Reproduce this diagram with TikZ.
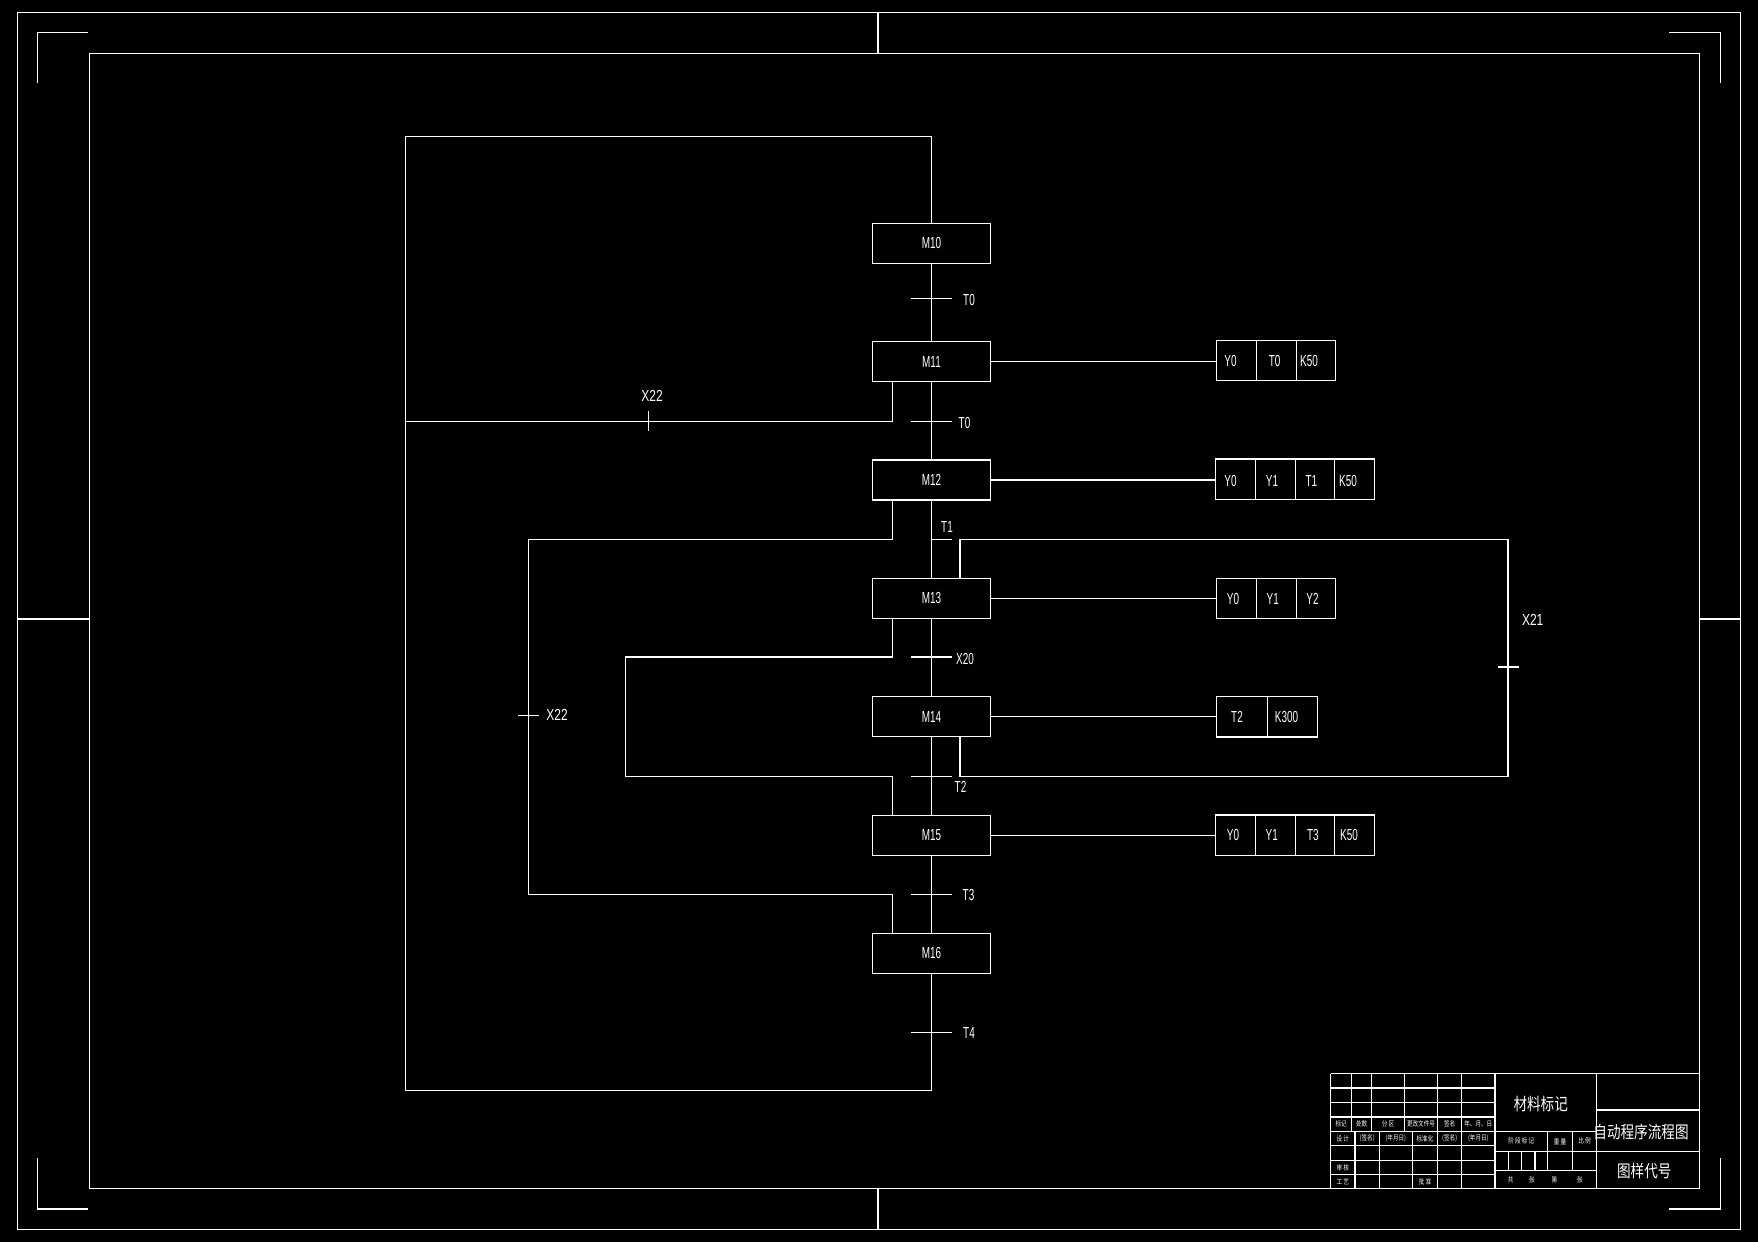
\documentclass[tikz,border=0pt]{standalone}
\usepackage{fontspec}
\setmainfont{Liberation Sans}
\newfontfamily\cadfont[FakeStretch=0.62]{Liberation Sans}
\newfontfamily\cadwide[FakeStretch=0.75]{Liberation Sans}
\newfontfamily\cjknarrow[FakeStretch=0.8]{Noto Sans CJK SC}
\tikzset{
  stepbox/.style={draw, minimum width=118.4pt, minimum height=40pt, inner sep=0pt,
    font=\cadfont\fontsize{16}{16}\selectfont},
  cellbox/.style={draw, minimum height=40.4pt, inner sep=0pt},
  lbl/.style={inner sep=0pt, font=\cadfont\fontsize{16}{16}\selectfont},
  wlbl/.style={inner sep=0pt, font=\cadwide\fontsize{16}{16}\selectfont},
  bigcjk/.style={inner sep=0pt, font=\cjknarrow\fontsize{17}{17}\selectfont},
  smallcjk/.style={inner sep=0pt, font=\cjknarrow\fontsize{7}{7}\selectfont},
  frameline/.style={line width=1.3pt},
}
\begin{document}
\begin{tikzpicture}[x=1pt,y=-1pt,color=white,line width=1.3pt]
\fill[black] (0,0) rectangle (1758,1242);
\useasboundingbox (0,0) rectangle (1758,1242);

% ---------- frames ----------
\draw[frameline] (17.3,12.3) rectangle (1740.3,1229.3);
\draw[frameline] (89.3,53.3) rectangle (1699.3,1188.3);
% centre marks
\draw (877.9,12.3) -- (877.9,53.3);
\draw (877.9,1188.3) -- (877.9,1229.3);
\draw (17.3,618.9) -- (89.3,618.9);
\draw (1699.3,618.9) -- (1740.3,618.9);
% corner marks
\draw (37.3,83.3) -- (37.3,32.7) -- (88.3,32.7);
\draw (1669.3,32.7) -- (1720.3,32.7) -- (1720.3,83.3);
\draw (37.3,1158.3) -- (37.3,1209) -- (88.3,1209);
\draw (1669.3,1209) -- (1720.3,1209) -- (1720.3,1158.3);

% ---------- step boxes ----------
\node[stepbox] (m10) at (931.5,243.3) {M10};
\node[stepbox] (m11) at (931.5,361.8) {M11};
\node[stepbox] (m12) at (931.5,480.0) {M12};
\node[stepbox] (m13) at (931.5,598.3) {M13};
\node[stepbox] (m14) at (931.5,716.7) {M14};
\node[stepbox] (m15) at (931.5,835.3) {M15};
\node[stepbox] (m16) at (931.5,953.3) {M16};

% main line and outer loop
\coordinate (ctop) at (931.5,136.3);
\coordinate (ctl) at (405.3,136.3);
\coordinate (cbl) at (405.3,1090.3);
\coordinate (cbot) at (931.5,1090.3);
\draw (m10.north) -- (ctop) -- (ctl) -- (cbl) -- (cbot) -- (m16.south);
\draw (m10.south) -- (m11.north);
\draw (m11.south) -- (m12.north);
\draw (m12.south) -- (m13.north);
\draw (m13.south) -- (m14.north);
\draw (m14.south) -- (m15.north);
\draw (m15.south) -- (m16.north);

% transitions
\coordinate (tr1) at (931.5,298.3);
\coordinate (tr2) at (931.5,421.3);
\coordinate (tr3) at (931.5,539.3);
\coordinate (tr4) at (931.5,657.0);
\coordinate (tr5) at (931.5,776.3);
\coordinate (tr6) at (931.5,894.3);
\coordinate (tr7) at (931.5,1032.3);
\draw (tr1) ++(-20.5,0) -- ++(41,0);
\draw (tr2) ++(-20.5,0) -- ++(41,0);
\draw (tr3) -- ++(20.5,0);
\draw (tr4) ++(-20.5,0) -- ++(41,0);
\draw (tr5) ++(-20.5,0) -- ++(41,0);
\draw (tr6) ++(-20.5,0) -- ++(41,0);
\draw (tr7) ++(-20.5,0) -- ++(41,0);
\node[lbl] (lt1) at (969,300) {T0};
\node[lbl] (lt2) at (964.5,422.5) {T0};
\node[lbl] (lt3) at (947,527) {T1};
\node[lbl] (lt4) at (965,659) {X20};
\node[lbl] (lt5) at (960.5,787) {T2};
\node[lbl] (lt6) at (968.5,894.5) {T3};
\node[lbl] (lt7) at (969,1033) {T4};

% X22 upper branch (M11 -> outer loop)
\coordinate (u1) at (892.3,421.3);
\draw (m11.south -| u1) -- (u1) -- (u1 -| ctl);
\draw (648.3,411) -- (648.3,430.7);
\node[wlbl] (lx22a) at (652,396) {X22};

% X22 lower loop (M12 -> M16)
\coordinate (a1) at (892.3,539.3);
\coordinate (a2) at (528.3,539.3);
\coordinate (a3) at (528.3,894.3);
\coordinate (a4) at (892.3,894.3);
\draw (m12.south -| a1) -- (a1) -- (a2) -- (a3) -- (a4) -- (m16.north -| a4);
\draw (518,715.3) -- (538.5,715.3);
\node[wlbl] (lx22b) at (557,715.3) {X22};

% X20 loop (M13 -> M15)
\coordinate (b1) at (892.3,657.0);
\coordinate (b2) at (625.6,657.0);
\coordinate (b3) at (625.6,776.3);
\coordinate (b4) at (892.3,776.3);
\draw (m13.south -| b1) -- (b1) -- (b2) -- (b3) -- (b4) -- (m15.north -| b4);

% X21 loop (M14 -> M13)
\coordinate (c1) at (960,539.3);
\coordinate (c2) at (1508,539.3);
\coordinate (c3) at (1508,776.3);
\coordinate (c4) at (960,776.3);
\draw (m13.north -| c1) -- (c1) -- (c2) -- (c3) -- (c4) -- (m14.south -| c4);
\draw (1498,667) -- (1519,667);
\node[wlbl] (lx21) at (1532.7,620) {X21};

% ---------- action boxes ----------
% M11
\node[cellbox, minimum width=40pt] (p1a) at (1236.3,360.5) {};
\node[cellbox, minimum width=40pt] (p1b) at (1276.3,360.5) {};
\node[cellbox, minimum width=39.4pt] (p1c) at (1316,360.5) {};
\draw (m11.east) -- (m11.east -| p1a.west);
\node[lbl] at (1230.5,360.5) {Y0};
\node[lbl] at (1274.7,360.5) {T0};
\node[lbl] at (1309,360.5) {K50};
% M12
\node[cellbox, minimum width=40pt] (p2a) at (1235.3,479.3) {};
\node[cellbox, minimum width=40pt] (p2b) at (1275.3,479.3) {};
\node[cellbox, minimum width=39pt] (p2c) at (1314.8,479.3) {};
\node[cellbox, minimum width=40.4pt] (p2d) at (1354.5,479.3) {};
\draw (m12.east) -- (m12.east -| p2a.west);
\node[lbl] at (1230.5,480.5) {Y0};
\node[lbl] at (1272,480.5) {Y1};
\node[lbl] at (1311.3,480.5) {T1};
\node[lbl] at (1348,480.5) {K50};
% M13
\node[cellbox, minimum width=40pt] (p3a) at (1236.3,598.5) {};
\node[cellbox, minimum width=40pt] (p3b) at (1276.3,598.5) {};
\node[cellbox, minimum width=39.4pt] (p3c) at (1316,598.5) {};
\draw (m13.east) -- (m13.east -| p3a.west);
\node[lbl] at (1233,599) {Y0};
\node[lbl] at (1272.7,599) {Y1};
\node[lbl] at (1312.5,599) {Y2};
% M14
\node[cellbox, minimum width=51pt] (p4a) at (1241.8,716.8) {};
\node[cellbox, minimum width=50.4pt] (p4b) at (1292.5,716.8) {};
\draw (m14.east) -- (m14.east -| p4a.west);
\node[lbl] at (1237,717) {T2};
\node[lbl] at (1286.5,717) {K300};
% M15
\node[cellbox, minimum width=40pt] (p5a) at (1235.3,835.3) {};
\node[cellbox, minimum width=40pt] (p5b) at (1275.3,835.3) {};
\node[cellbox, minimum width=39pt] (p5c) at (1314.8,835.3) {};
\node[cellbox, minimum width=40.4pt] (p5d) at (1354.5,835.3) {};
\draw (m15.east) -- (m15.east -| p5a.west);
\node[lbl] at (1233,834.5) {Y0};
\node[lbl] at (1271.7,834.5) {Y1};
\node[lbl] at (1312.8,834.5) {T3};
\node[lbl] at (1349,834.5) {K50};

% ---------- title block ----------
\begin{scope}[line width=1.2pt]
\draw (1330.7,1073.5) -- (1699.3,1073.5);
\draw (1330.7,1073.5) -- (1330.7,1188.3);
\foreach \yy in {1088,1102.3,1117,1131.3,1145.7,1160.7,1174.7}
  \draw (1330.7,\yy) -- (1495,\yy);
\foreach \xx in {1351.7,1371.7,1404.3,1437.7,1461.7}
  \draw (\xx,1073.5) -- (\xx,1131.3);
\foreach \xx in {1355,1379.3,1412.3,1437.7,1461.7}
  \draw (\xx,1131.3) -- (\xx,1188.3);
\draw (1495,1073.5) -- (1495,1188.3);
\draw (1495,1131.3) -- (1596.7,1131.3);
\draw (1495,1151.3) -- (1596.7,1151.3);
\draw (1495,1170.7) -- (1596.7,1170.7);
\draw (1547.7,1131.3) -- (1547.7,1170.7);
\draw (1572.3,1131.3) -- (1572.3,1170.7);
\foreach \xx in {1508.3,1521.7,1535}
  \draw (\xx,1151.3) -- (\xx,1170.7);
\draw (1596.7,1073.5) -- (1596.7,1188.3);
\draw (1596.7,1110) -- (1699.3,1110);
\draw (1596.7,1151.3) -- (1699.3,1151.3);
\end{scope}

\node[bigcjk] at (1540.7,1104.3) {材料标记};
\node[bigcjk] at (1641,1131.7) {自动程序流程图};
\node[bigcjk] at (1644.3,1171) {图样代号};

\node[smallcjk] at (1341.2,1124) {标记};
\node[smallcjk] at (1361.7,1124) {处数};
\node[smallcjk] at (1388,1124) {分\,区};
\node[smallcjk] at (1421,1124) {更改文件号};
\node[smallcjk] at (1449.7,1124) {签名};
\node[smallcjk] at (1478.3,1124) {年、月、日};
\node[smallcjk] at (1342.8,1138.5) {设\,计};
\node[smallcjk] at (1367.2,1138.5) {(签名)};
\node[smallcjk] at (1395.8,1138.5) {(年月日)};
\node[smallcjk] at (1425,1138.5) {标准化};
\node[smallcjk] at (1449.7,1138.5) {(签名)};
\node[smallcjk] at (1478.3,1138.5) {(年月日)};
\node[smallcjk] at (1342.8,1167.7) {审\,核};
\node[smallcjk] at (1342.8,1181.7) {工\,艺};
\node[smallcjk] at (1425,1181.7) {批\,准};
\node[smallcjk] at (1521.3,1141.3) {阶\,段\,标\,记};
\node[smallcjk] at (1560,1141.3) {重\,量};
\node[smallcjk] at (1584.5,1141.3) {比\,例};
\node[smallcjk] at (1510.7,1179.5) {共};
\node[smallcjk] at (1532,1179.5) {张};
\node[smallcjk] at (1554.3,1179.5) {第};
\node[smallcjk] at (1580,1179.5) {张};
\end{tikzpicture}
\end{document}
